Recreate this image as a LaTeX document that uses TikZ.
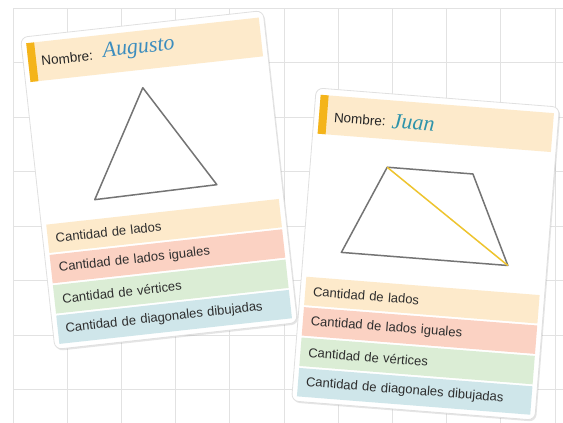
\documentclass[tikz,border=0pt]{standalone}
\usepackage{fontspec}
\setmainfont{Liberation Sans}
\newfontfamily\handfont{Liberation Serif}
\usetikzlibrary{shadows}

\definecolor{gridgray}{HTML}{E2E2E2}
\definecolor{peach}{HTML}{FDEACB}
\definecolor{salmon}{HTML}{FBD2C3}
\definecolor{mint}{HTML}{DBEDD5}
\definecolor{paleblue}{HTML}{CFE6EA}
\definecolor{accent}{HTML}{F4B41A}
\definecolor{inkblue}{HTML}{3C8DBE}
\definecolor{inkteal}{HTML}{2E93AA}
\definecolor{figgray}{HTML}{747474}
\definecolor{diaggold}{HTML}{EEC42E}

\begin{document}
\begin{tikzpicture}[x=1pt, y=-1pt,
    gridline/.style={draw=gridgray, line width=0.9pt},
    card/.style={draw=black!12, line width=0.8pt, fill=white, rounded corners=7pt,
      minimum width=244pt, minimum height=314pt, inner sep=0pt, transform shape,
      drop shadow={opacity=0.2, shadow xshift=1.2pt, shadow yshift=-1.6pt}},
    header/.style={fill=peach, minimum width=234pt, minimum height=39pt, inner sep=0pt, transform shape},
    accentbar/.style={fill=accent, minimum width=8pt, minimum height=39pt, inner sep=0pt, transform shape},
    nombre/.style={anchor=west, inner sep=0pt, text=black!85, font=\fontsize{13.5}{13.5}\selectfont, transform shape},
    hand/.style={anchor=west, inner sep=0pt, font=\handfont\itshape\fontsize{22}{22}\selectfont, transform shape},
    band/.style={minimum height=28.5pt, text width=218pt, inner xsep=8pt, inner ysep=0pt, align=left,
      text=black!82, font=\fontsize{13}{13}\selectfont, transform shape},
    figline/.style={draw=figgray, line width=1.5pt, line join=round}]
  % 背景和方格
  \fill[white] (0,0) rectangle (563,423);
  \useasboundingbox (0,0) rectangle (563,423);
  \draw[gridline] (13,8) -- (13,423) (67.2,8) -- (67.2,423) (121.4,8) -- (121.4,423)
    (175.6,8) -- (175.6,423) (229.8,8) -- (229.8,423) (284,8) -- (284,423)
    (338.2,8) -- (338.2,423) (392.4,8) -- (392.4,423) (446.6,8) -- (446.6,423)
    (500.8,8) -- (500.8,423) (555,8) -- (555,423);
  \draw[gridline] (13,8) -- (563,8) (13,62.5) -- (563,62.5) (13,117) -- (563,117)
    (13,171.5) -- (563,171.5) (13,226) -- (563,226) (13,280.5) -- (563,280.5)
    (13,335) -- (563,335) (13,389.5) -- (563,389.5);

  % 第一张卡片: 三角形
  \begin{scope}[shift={(159,180)}, rotate=6.3]
    \node[card] (cardA) at (0,0) {};
    \node[header] (headA) at (0,-131) {};
    \node[accentbar] (barA) at (-113,-131) {};
    \node[nombre] (nombreA) at (-104,-131) {Nombre:};
    \node[hand, text=inkblue] (nameA) at (-42,-133) {Augusto};
    \draw[figline] (-6,-93.5) -- (-66,12.5) -- (57,11) -- cycle;
    % 四行
    \node[band, fill=peach] (ladosA) at (0,46.25) {Cantidad de lados};
    \node[band, fill=salmon] (igualesA) at (0,76.75) {Cantidad de lados iguales};
    \node[band, fill=mint] (verticesA) at (0,107.25) {Cantidad de vértices};
    \node[band, fill=paleblue] (diagA) at (0,137.75) {Cantidad de diagonales dibujadas};
  \end{scope}

  % 第二张卡片: 梯形和一条对角线
  \begin{scope}[shift={(425.5,254)}, rotate=-4.5]
    \node[card] (cardB) at (0,0) {};
    \node[header] (headB) at (0,-131) {};
    \node[accentbar] (barB) at (-113,-131) {};
    \node[nombre] (nombreB) at (-102,-129) {Nombre:};
    \node[hand, text=inkteal] (nameB) at (-44,-130) {Juan};
    \draw[figline] (-45,-83.5) -- (41,-83.5) -- (83,5) -- (-84,5) -- cycle;
    \draw[diaggold, line width=1.5pt] (-45,-83.5) -- (83,5);
    % 四行
    \node[band, fill=peach] (ladosB) at (0,46.25) {Cantidad de lados};
    \node[band, fill=salmon] (igualesB) at (0,76.75) {Cantidad de lados iguales};
    \node[band, fill=mint] (verticesB) at (0,107.25) {Cantidad de vértices};
    \node[band, fill=paleblue] (diagB) at (0,137.75) {Cantidad de diagonales dibujadas};
  \end{scope}
\end{tikzpicture}
\end{document}
